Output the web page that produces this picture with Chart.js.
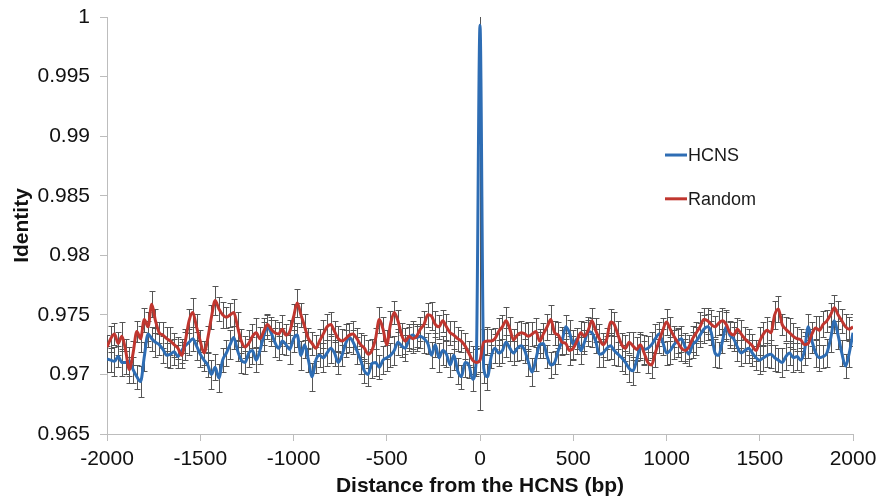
<!DOCTYPE html>
<html>
<head>
<meta charset="utf-8">
<script src="https://cdn.jsdelivr.net/npm/chart.js@4/dist/chart.umd.min.js"></script>
<style>
  body { margin: 0; background: #fff; }
  #wrap { width: 879px; height: 501px; }
</style>
</head>
<body>
<div id="wrap"><canvas id="identityChart" width="879" height="501"></canvas></div>
<script>
// distance from the HCNS, bp (one point every 20 bp)
const startBp = -2000;
const stepBp = 20;

// mean identity, HCNS windows
const hcns = [
  0.9713,0.9712,0.9711,0.9715,0.9710,0.9710,0.9711,0.9704,0.9698,0.9694,
  0.9715,0.9734,0.9730,0.9727,0.9725,0.9721,0.9716,0.9717,0.9719,0.9715,
  0.9720,0.9724,0.9727,0.9730,0.9724,0.9717,0.9712,0.9708,0.9700,0.9706,
  0.9697,0.9712,0.9718,0.9725,0.9731,0.9720,0.9712,0.9710,0.9718,0.9720,
  0.9712,0.9720,0.9732,0.9740,0.9735,0.9727,0.9722,0.9728,0.9725,0.9721,
  0.9730,0.9733,0.9716,0.9725,0.9712,0.9698,0.9712,0.9716,0.9714,0.9718,
  0.9722,0.9718,0.9710,0.9716,0.9726,0.9731,0.9727,0.9720,0.9712,0.9703,
  0.9700,0.9709,0.9710,0.9706,0.9712,0.9714,0.9716,0.9720,0.9727,0.9724,
  0.9722,0.9730,0.9733,0.9731,0.9732,0.9730,0.9726,0.9716,0.9725,0.9714,
  0.9720,0.9717,0.9708,0.9716,0.9703,0.9698,0.9710,0.9708,0.9696,0.9712,
  0.9993,0.9705,0.9698,0.9715,0.9722,0.9718,0.9720,0.9727,0.9722,0.9718,
  0.9722,0.9724,0.9720,0.9710,0.9702,0.9713,0.9725,0.9726,0.9715,0.9708,
  0.9710,0.9720,0.9728,0.9740,0.9735,0.9725,0.9730,0.9720,0.9727,0.9736,
  0.9735,0.9728,0.9717,0.9718,0.9722,0.9724,0.9720,0.9717,0.9714,0.9710,
  0.9705,0.9703,0.9712,0.9723,0.9721,0.9722,0.9725,0.9730,0.9734,0.9727,
  0.9718,0.9720,0.9725,0.9728,0.9730,0.9723,0.9717,0.9725,0.9728,0.9733,
  0.9738,0.9740,0.9735,0.9718,0.9716,0.9728,0.9740,0.9733,0.9730,0.9723,
  0.9718,0.9720,0.9722,0.9718,0.9714,0.9712,0.9714,0.9716,0.9717,0.9714,
  0.9712,0.9710,0.9715,0.9718,0.9714,0.9715,0.9712,0.9720,0.9740,0.9728,
  0.9718,0.9714,0.9715,0.9718,0.9730,0.9745,0.9733,0.9718,0.9707,0.9718,
  0.9735
];

// mean identity, random windows
const random = [
  0.9723,0.9730,0.9734,0.9726,0.9732,0.9720,0.9704,0.9718,0.9736,0.9730,
  0.9746,0.9740,0.9759,0.9745,0.9735,0.9733,0.9730,0.9728,0.9725,0.9722,
  0.9716,0.9728,0.9745,0.9752,0.9740,0.9728,0.9718,0.9730,0.9748,0.9762,
  0.9755,0.9750,0.9748,0.9750,0.9752,0.9740,0.9728,0.9723,0.9726,0.9732,
  0.9735,0.9730,0.9736,0.9742,0.9738,0.9735,0.9734,0.9738,0.9733,0.9736,
  0.9748,0.9760,0.9750,0.9740,0.9730,0.9726,0.9722,0.9728,0.9734,0.9740,
  0.9742,0.9736,0.9730,0.9728,0.9730,0.9733,0.9734,0.9730,0.9725,0.9722,
  0.9717,0.9720,0.9730,0.9746,0.9738,0.9725,0.9742,0.9752,0.9745,0.9733,
  0.9728,0.9732,0.9730,0.9732,0.9738,0.9742,0.9750,0.9749,0.9742,0.9740,
  0.9745,0.9740,0.9735,0.9733,0.9730,0.9728,0.9724,0.9718,0.9712,0.9710,
  0.9712,0.9727,0.9728,0.9728,0.9730,0.9736,0.9740,0.9745,0.9738,0.9729,
  0.9733,0.9735,0.9734,0.9732,0.9734,0.9736,0.9728,0.9734,0.9740,0.9746,
  0.9735,0.9733,0.9727,0.9726,0.9720,0.9722,0.9728,0.9735,0.9732,0.9737,
  0.9745,0.9737,0.9730,0.9725,0.9730,0.9744,0.9742,0.9733,0.9725,0.9722,
  0.9727,0.9724,0.9721,0.9725,0.9718,0.9710,0.9708,0.9718,0.9728,0.9737,
  0.9744,0.9738,0.9732,0.9727,0.9722,0.9720,0.9723,0.9730,0.9735,0.9740,
  0.9746,0.9745,0.9742,0.9740,0.9743,0.9745,0.9742,0.9735,0.9733,0.9738,
  0.9734,0.9730,0.9727,0.9724,0.9720,0.9728,0.9734,0.9737,0.9735,0.9750,
  0.9755,0.9742,0.9738,0.9735,0.9732,0.9730,0.9729,0.9725,0.9726,0.9734,
  0.9739,0.9737,0.9742,0.9745,0.9750,0.9756,0.9750,0.9745,0.9740,0.9738,
  0.9740
];

// error bar half-lengths, in units of 1e-4 identity
const hcnsErr = [
  11,10,12,9,11,10,12,11,10,13,
  12,11,10,12,9,11,10,12,11,10,
  10,12,11,10,12,11,9,10,12,11,
  12,10,11,12,10,9,11,10,12,11,
  10,11,12,10,11,12,10,11,9,12,
  11,10,12,11,10,12,11,10,12,11,
  12,11,10,9,11,12,10,11,12,10,
  10,12,11,10,12,11,10,12,11,9,
  11,10,12,11,10,12,9,11,10,12,
  12,11,10,12,11,10,12,11,10,12,
  323,12,11,10,12,11,10,12,11,10,
  11,12,10,11,12,10,11,12,10,11,
  10,11,12,10,11,12,9,11,10,12,
  12,10,11,12,10,11,12,10,11,10,
  11,12,10,11,12,10,11,12,10,11,
  10,11,12,10,11,12,10,11,12,10,
  12,11,10,12,11,10,12,11,10,12,
  11,10,12,11,10,12,11,10,12,11,
  10,12,11,10,12,11,10,12,11,10,
  12,11,10,12,11,10,12,11,10,12,
  11
];

const randomErr = [
  10,11,9,10,12,10,11,10,9,11,
  10,12,11,10,9,11,10,12,10,9,
  11,10,10,12,11,9,10,11,10,12,
  10,11,9,10,11,12,10,9,11,10,
  12,10,11,9,10,11,10,12,9,10,
  11,12,10,11,9,10,11,10,12,11,
  10,9,11,10,12,10,11,9,10,11,
  12,10,9,11,10,12,11,10,9,10,
  11,10,12,9,10,11,10,12,11,10,
  9,11,10,12,10,9,11,10,12,11,
  10,11,12,10,9,11,10,12,10,9,
  11,10,9,12,10,11,10,9,11,12,
  10,11,10,9,12,10,11,10,12,9,
  11,10,12,10,9,11,10,12,10,11,
  9,12,10,11,10,9,11,12,10,10,
  11,10,9,12,11,10,10,11,9,12,
  10,11,12,9,10,11,12,10,11,9,
  12,10,11,10,9,12,10,11,10,12,
  11,9,10,12,11,10,9,11,12,10,
  10,12,11,9,10,11,12,10,11,10,
  11
];

const seriesNames = ['HCNS', 'Random'];
const xTicks = [-2000, -1500, -1000, -500, 0, 500, 1000, 1500, 2000];
const yTicks = [0.965, 0.97, 0.975, 0.98, 0.985, 0.99, 0.995, 1];

const blue = '#2e6db4';
const red = '#c0362f';

function toPoints(values) {
  return values.map((v, i) => ({ x: startBp + i * stepBp, y: v }));
}

const errorBars = {
  id: 'errorBars',
  beforeDatasetsDraw(chart) {
    const { ctx, chartArea, scales } = chart;
    ctx.save();
    ctx.beginPath();
    ctx.rect(chartArea.left, chartArea.top, chartArea.width, chartArea.height);
    ctx.clip();
    ctx.strokeStyle = '#555555';
    ctx.lineWidth = 1;
    chart.data.datasets.forEach((ds, i) => {
      const meta = chart.getDatasetMeta(i);
      meta.data.forEach((pt, j) => {
        const v = ds.data[j].y;
        const e = ds.errors[j] / 10000;
        const x = Math.round(pt.x) + 0.5;
        const top = Math.round(scales.y.getPixelForValue(v + e)) + 0.5;
        const bot = Math.round(scales.y.getPixelForValue(v - e)) + 0.5;
        ctx.beginPath();
        ctx.moveTo(x, top); ctx.lineTo(x, bot);
        ctx.moveTo(x - 3, top); ctx.lineTo(x + 3, top);
        ctx.moveTo(x - 3, bot); ctx.lineTo(x + 3, bot);
        ctx.stroke();
      });
    });
    ctx.restore();
  }
};

// legend sits inside the plot, right of the spike
const innerLegend = {
  id: 'innerLegend',
  afterDraw(chart) {
    const { ctx, chartArea } = chart;
    const x0 = chartArea.left + chartArea.width * 0.748;
    const rows = [0.331, 0.436];
    ctx.save();
    ctx.font = "18px 'Liberation Sans', Arial, sans-serif";
    ctx.textBaseline = 'middle';
    ctx.fillStyle = '#1a1a1a';
    chart.data.datasets.forEach((ds, i) => {
      const y = chartArea.top + chartArea.height * rows[ds.legendRow];
      ctx.strokeStyle = ds.borderColor;
      ctx.lineWidth = 3;
      ctx.beginPath();
      ctx.moveTo(x0, y);
      ctx.lineTo(x0 + 22, y);
      ctx.stroke();
      ctx.fillText(ds.label, x0 + 23, y + 1);
    });
    ctx.restore();
  }
};

Chart.defaults.font.family = "'Liberation Sans', Arial, sans-serif";
Chart.defaults.color = '#111111';

new Chart(document.getElementById('identityChart').getContext('2d'), {
  type: 'line',
  data: {
    datasets: [
      {
        label: seriesNames[1],
        data: toPoints(random),
        errors: randomErr,
        legendRow: 1,
        borderColor: red,
        borderWidth: 3,
        pointRadius: 0,
        cubicInterpolationMode: 'monotone',
        order: 0
      },
      {
        label: seriesNames[0],
        data: toPoints(hcns),
        errors: hcnsErr,
        legendRow: 0,
        borderColor: blue,
        borderWidth: 3,
        pointRadius: 0,
        cubicInterpolationMode: 'monotone',
        order: 1
      }
    ]
  },
  options: {
    responsive: false,
    animation: false,
    layout: { padding: { top: 17, right: 26, left: 0, bottom: 0 } },
    plugins: {
      legend: { display: false },
      tooltip: { enabled: false }
    },
    scales: {
      x: {
        type: 'linear',
        min: xTicks[0],
        max: xTicks[xTicks.length - 1],
        afterFit: s => { s.height = 67; s.paddingLeft = 0; s.paddingRight = 0; },
        afterBuildTicks: s => { s.ticks = xTicks.map(v => ({ value: v })); },
        ticks: {
          font: { size: 21 },
          padding: 6,
          maxRotation: 0,
          callback: v => String(v)
        },
        grid: { drawOnChartArea: false, tickLength: 7, color: '#bdbdbd' },
        border: { color: '#bdbdbd' },
        title: {
          display: true,
          text: 'Distance from the HCNS (bp)',
          font: { size: 21, weight: 'bold' },
          padding: { top: 0, bottom: 2 }
        }
      },
      y: {
        min: yTicks[0],
        max: yTicks[yTicks.length - 1],
        afterFit: s => { s.width = 107; s.paddingTop = 0; s.paddingBottom = 0; },
        afterBuildTicks: s => { s.ticks = yTicks.map(v => ({ value: v })); },
        ticks: {
          font: { size: 21 },
          padding: 10,
          callback: v => String(Number(v.toFixed(3)))
        },
        grid: { drawOnChartArea: false, tickLength: 7, color: '#bdbdbd' },
        border: { color: '#bdbdbd' },
        title: {
          display: true,
          text: 'Identity',
          font: { size: 21, weight: 'bold' },
          padding: { top: 10, bottom: 0 }
        }
      }
    }
  },
  plugins: [errorBars, innerLegend]
});
</script>
</body>
</html>
